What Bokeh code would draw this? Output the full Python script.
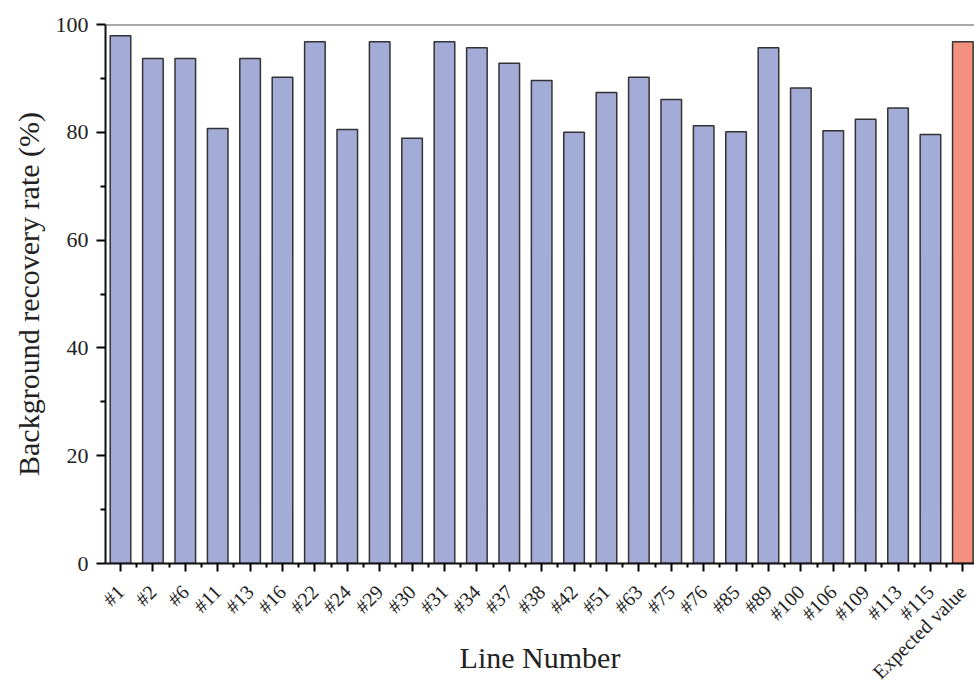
import math
from bokeh.plotting import figure
from bokeh.models import ColumnDataSource, FixedTicker, Range1d, Span
from bokeh.embed import file_html
from bokeh.resources import INLINE

categories = ["#1", "#2", "#6", "#11", "#13", "#16", "#22", "#24", "#29", "#30",
              "#31", "#34", "#37", "#38", "#42", "#51", "#63", "#75", "#76", "#85",
              "#89", "#100", "#106", "#109", "#113", "#115", "Expected value"]
values = [97.9, 93.7, 93.7, 80.7, 93.7, 90.2, 96.8, 80.5, 96.8, 78.9,
          96.8, 95.7, 92.8, 89.6, 80.0, 87.4, 90.2, 86.1, 81.2, 80.1,
          95.7, 88.2, 80.3, 82.4, 84.5, 79.6, 96.8]
y_ticks = [0, 20, 40, 60, 80, 100]
y_minor = [10, 30, 50, 70, 90]

BLUE = "#A3ABD7"
SALMON = "#F4917E"
FONT = "Liberation Serif"

xs = list(range(len(categories)))
colors = [BLUE] * (len(categories) - 1) + [SALMON]
src = ColumnDataSource(dict(x=xs, top=values, color=colors))

p = figure(width=974, height=682, x_range=Range1d(-0.463, 26.36), y_range=Range1d(0, 100),
           output_backend="svg", toolbar_location=None,
           min_border_left=105, min_border_right=0, min_border_top=24, min_border_bottom=119)
p.outline_line_color = None
p.xgrid.visible = False
p.ygrid.visible = False
p.background_fill_color = "white"

p.vbar(x="x", top="top", width=0.635, source=src, fill_color="color",
       line_color="#333333", line_width=1.5)

p.add_layout(Span(location=100, dimension="width", line_color="#555555", line_width=2))

xa = p.xaxis[0]
xa.ticker = FixedTicker(ticks=xs, minor_ticks=[i - 0.5 for i in range(len(categories) + 1)])
xa.major_label_overrides = {i: c for i, c in enumerate(categories)}
xa.major_label_orientation = math.pi / 4
xa.major_label_text_font = FONT
xa.major_label_text_font_size = "20px"
xa.major_label_text_color = "#222222"
xa.major_label_standoff = 17
xa.major_tick_out = 8
xa.major_tick_in = 0
xa.minor_tick_out = 4
xa.minor_tick_in = 0
xa.axis_line_width = 2
xa.major_tick_line_width = 2
xa.minor_tick_line_width = 2
xa.axis_line_color = "#111111"
xa.axis_label = "Line Number"
xa.axis_label_text_font = FONT
xa.axis_label_text_font_size = "30px"
xa.axis_label_text_font_style = "normal"
xa.axis_label_text_color = "#222222"
xa.axis_label_standoff = -53

ya = p.yaxis[0]
ya.ticker = FixedTicker(ticks=y_ticks, minor_ticks=y_minor)
ya.major_label_text_font = FONT
ya.major_label_text_font_size = "22px"
ya.major_label_text_color = "#222222"
ya.major_label_standoff = 8
ya.major_tick_out = 9
ya.major_tick_in = 0
ya.minor_tick_out = 5
ya.minor_tick_in = 0
ya.axis_line_width = 2
ya.major_tick_line_width = 2
ya.minor_tick_line_width = 2
ya.axis_line_color = "#111111"
ya.axis_label = "Background recovery rate (%)"
ya.axis_label_text_font = FONT
ya.axis_label_text_font_size = "30px"
ya.axis_label_text_font_style = "normal"
ya.axis_label_text_color = "#222222"
ya.axis_label_standoff = 8

open("out.html", "w").write(file_html(p, INLINE))
